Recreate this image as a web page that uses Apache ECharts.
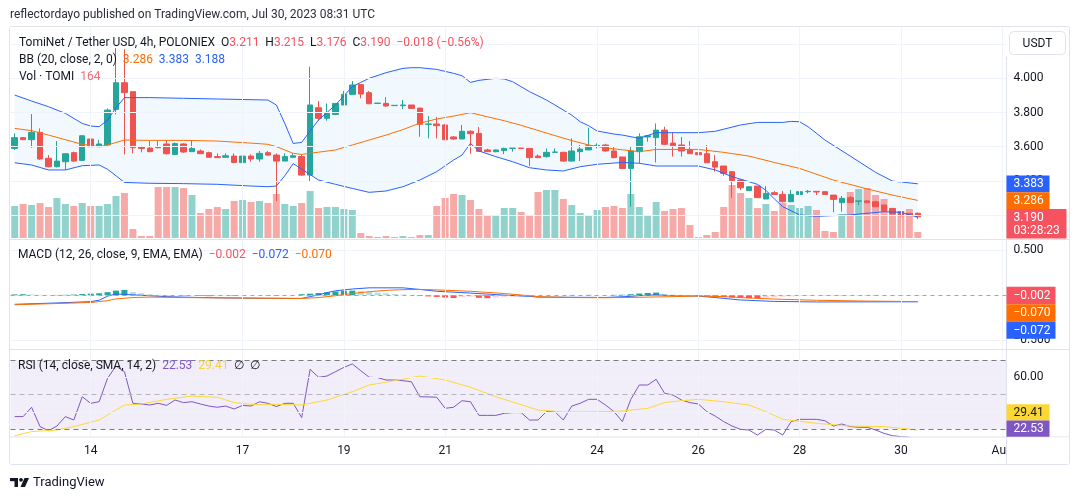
<!DOCTYPE html>
<html lang="en">
<head>
<meta charset="utf-8" />
<title>TomiNet / Tether USD, 4h, POLONIEX</title>
<script src="https://cdn.jsdelivr.net/npm/echarts@6/dist/echarts.min.js"></script>
<style>
  html, body { margin: 0; padding: 0; background: #ffffff; }
  #chart { width: 1080px; height: 500px; }
</style>
</head>
<body>
<div id="chart"></div>
<script>
// 4h candles, slot 0 = Jul 12 12:00 UTC, 118 slots so the axis runs to Aug 1
var SLOTS = 118;
var tickIdx = [9, 27, 39, 51, 69, 81, 93, 105, 117];
var tickLabels = ['14', '17', '19', '21', '24', '26', '28', '30', 'Aug'];
var priceTicks = [3.2, 3.4, 3.6, 3.8, 4.0, 4.2];

// open, high, low, close
var ohlc = [
  [3.590,3.678,3.581,3.653],[3.653,3.655,3.639,3.641],[3.641,3.791,3.594,3.684],[3.684,3.707,3.522,3.528],
  [3.532,3.551,3.479,3.483],[3.483,3.633,3.479,3.516],[3.512,3.561,3.464,3.559],[3.565,3.571,3.512,3.516],
  [3.520,3.668,3.516,3.664],[3.645,3.662,3.596,3.600],[3.600,3.639,3.600,3.616],[3.610,3.824,3.606,3.814],
  [3.818,4.177,3.789,3.974],[3.974,4.170,3.555,3.916],[3.922,3.922,3.561,3.594],[3.598,3.606,3.567,3.590],
  [3.592,3.633,3.567,3.571],[3.600,3.633,3.590,3.594],[3.616,3.633,3.555,3.559],[3.555,3.625,3.551,3.618],
  [3.616,3.620,3.565,3.569],[3.571,3.633,3.571,3.590],[3.575,3.584,3.559,3.559],[3.565,3.571,3.538,3.538],
  [3.542,3.561,3.536,3.536],[3.538,3.561,3.538,3.547],[3.545,3.561,3.503,3.508],[3.507,3.551,3.507,3.545],
  [3.545,3.555,3.512,3.528],[3.528,3.575,3.512,3.561],[3.565,3.575,3.547,3.551],[3.551,3.561,3.282,3.516],
  [3.516,3.561,3.516,3.542],[3.538,3.561,3.538,3.547],[3.542,3.555,3.430,3.434],[3.434,4.068,3.395,3.844],
  [3.828,3.867,3.752,3.766],[3.766,3.853,3.752,3.795],[3.789,3.853,3.785,3.853],[3.844,3.926,3.844,3.906],
  [3.906,3.984,3.906,3.961],[3.964,3.964,3.883,3.908],[3.916,3.926,3.851,3.851],[3.853,3.855,3.853,3.855],
  [3.853,3.890,3.834,3.838],[3.840,3.842,3.840,3.842],[3.840,3.873,3.820,3.844],[3.844,3.844,3.824,3.824],
  [3.826,3.826,3.658,3.731],[3.731,3.779,3.649,3.733],[3.733,3.773,3.649,3.723],[3.727,3.733,3.641,3.641],
  [3.657,3.662,3.641,3.645],[3.645,3.727,3.645,3.690],[3.690,3.696,3.559,3.676],[3.678,3.715,3.569,3.573],
  [3.581,3.588,3.569,3.571],[3.571,3.583,3.567,3.581],[3.577,3.594,3.557,3.590],[3.590,3.592,3.571,3.592],
  [3.592,3.592,3.588,3.590],[3.590,3.590,3.487,3.536],[3.545,3.555,3.536,3.536],[3.542,3.590,3.536,3.567],
  [3.567,3.590,3.563,3.569],[3.567,3.571,3.512,3.516],[3.516,3.649,3.516,3.575],[3.571,3.610,3.516,3.586],
  [3.581,3.711,3.581,3.606],[3.606,3.620,3.590,3.608],[3.610,3.617,3.571,3.575],[3.575,3.598,3.532,3.536],
  [3.540,3.540,3.469,3.473],[3.473,3.600,3.249,3.575],[3.571,3.678,3.503,3.658],[3.657,3.668,3.629,3.664],
  [3.653,3.736,3.508,3.697],[3.697,3.717,3.610,3.614],[3.621,3.684,3.542,3.606],[3.610,3.657,3.542,3.575],
  [3.584,3.633,3.559,3.559],[3.565,3.565,3.553,3.553],[3.559,3.610,3.506,3.506],[3.512,3.551,3.454,3.481],
  [3.487,3.487,3.430,3.444],[3.454,3.458,3.302,3.401],[3.405,3.411,3.347,3.360],[3.343,3.366,3.343,3.366],
  [3.370,3.370,3.302,3.302],[3.294,3.370,3.294,3.327],[3.331,3.341,3.321,3.321],[3.321,3.341,3.275,3.278],
  [3.278,3.347,3.278,3.321],[3.321,3.352,3.321,3.337],[3.337,3.347,3.327,3.339],[3.339,3.339,3.317,3.335],
  [3.337,3.337,3.321,3.321],[3.317,3.317,3.216,3.292],[3.273,3.312,3.220,3.298],[3.302,3.312,3.273,3.273],
  [3.281,3.283,3.259,3.283],[3.283,3.288,3.269,3.273],[3.278,3.283,3.249,3.249],[3.259,3.259,3.226,3.226],
  [3.239,3.243,3.206,3.206],[3.220,3.224,3.193,3.197],[3.210,3.212,3.195,3.197],[3.211,3.215,3.176,3.190]
];

var volumes = [
  874,928,901,956,846,1092,928,874,956,874,874,928,1147,1229,246,55,55,1392,1392,1392,
  1365,1174,683,792,846,792,1010,1037,983,1010,956,1201,928,874,956,1283,819,846,846,792,
  764,137,55,27,55,27,55,27,82,82,874,1092,1201,1174,1037,792,601,628,819,819,
  710,601,1256,1310,1310,1065,901,683,628,764,846,874,819,1201,846,601,983,737,792,819,
  355,27,82,164,846,1447,1229,1092,819,928,737,956,901,819,874,764,191,164,655,1256,
  1338,1365,1174,1065,764,737,792,164
];

var bbUpper = [[0,3.902],[2,3.867],[4,3.834],[6,3.795],[8,3.736],[9,3.721],[10,3.717],[11,3.756],[12,3.828],[13,3.887],
  [16,3.887],[20,3.883],[24,3.879],[28,3.875],[30,3.873],[31,3.844],[32,3.736],[33,3.619],[34,3.625],[35,3.692],
  [36,3.756],[38,3.844],[40,3.951],[41,3.976],[42,4.000],[44,4.033],[46,4.058],[47,4.062],[48,4.062],[50,4.052],
  [52,4.029],[53,4.015],[54,3.976],[55,3.988],[57,4.000],[58,3.996],[59,3.980],[61,3.922],[63,3.873],[64,3.844],
  [66,3.785],[67,3.746],[68,3.723],[69,3.692],[71,3.674],[72,3.668],[74,3.649],[76,3.682],[81,3.682],[83,3.690],
  [86,3.727],[88,3.742],[91,3.742],[92,3.748],[93,3.746],[94,3.717],[96,3.639],[99,3.545],[102,3.450],[104,3.399],[107,3.383]];
var bbMiddle = [[0,3.707],[2,3.694],[4,3.668],[6,3.641],[8,3.614],[10,3.600],[11,3.610],[12,3.625],[13,3.639],[16,3.637],
  [20,3.637],[24,3.633],[28,3.621],[30,3.614],[31,3.600],[32,3.581],[33,3.561],[34,3.555],[36,3.568],[38,3.581],
  [40,3.610],[42,3.639],[44,3.668],[46,3.700],[48,3.738],[50,3.762],[52,3.779],[54,3.799],[56,3.775],[58,3.752],
  [60,3.725],[62,3.695],[64,3.665],[66,3.636],[68,3.610],[70,3.593],[72,3.582],[74,3.571],[76,3.584],[81,3.584],
  [84,3.567],[87,3.545],[90,3.508],[93,3.473],[97,3.405],[101,3.353],[104,3.317],[107,3.286]];
var bbLower = [[0,3.506],[2,3.493],[4,3.464],[6,3.464],[8,3.489],[10,3.493],[11,3.468],[12,3.430],[13,3.391],[16,3.386],
  [20,3.384],[24,3.380],[28,3.370],[30,3.366],[31,3.370],[32,3.430],[33,3.501],[34,3.469],[36,3.405],[38,3.380],
  [40,3.356],[42,3.333],[44,3.341],[46,3.366],[48,3.405],[50,3.454],[52,3.522],[53,3.551],[54,3.619],[55,3.575],
  [57,3.542],[59,3.512],[61,3.477],[63,3.464],[65,3.458],[67,3.483],[69,3.497],[72,3.508],[74,3.503],[76,3.487],
  [81,3.487],[83,3.464],[85,3.425],[87,3.395],[88,3.380],[89,3.345],[90,3.295],[91,3.249],[93,3.201],[95,3.193],
  [99,3.201],[103,3.220],[105,3.216],[107,3.188]];

var macdLine = [[0,-0.100],[5,-0.085],[9,-0.070],[10,-0.055],[11,-0.010],[12,0.015],[14,0.005],[16,-0.005],[18,-0.015],
  [22,-0.025],[26,-0.030],[30,-0.033],[34,-0.035],[35,-0.015],[36,0.005],[37,0.030],[38,0.050],[40,0.070],[42,0.083],
  [46,0.083],[48,0.065],[50,0.045],[54,0.025],[58,0.002],[61,-0.012],[62,-0.020],[66,-0.022],[70,-0.024],[73,-0.012],
  [74,-0.004],[76,0.005],[78,-0.005],[81,-0.008],[83,-0.025],[86,-0.052],[90,-0.068],[95,-0.074],[100,-0.073],[107,-0.072]];
var signalLine = [[0,-0.105],[9,-0.080],[11,-0.060],[12,-0.040],[14,-0.025],[16,-0.020],[20,-0.025],[30,-0.033],
  [34,-0.035],[36,-0.025],[38,-0.005],[40,0.020],[42,0.040],[44,0.055],[46,0.063],[48,0.065],[50,0.060],[54,0.045],
  [58,0.020],[61,-0.005],[62,-0.015],[66,-0.025],[70,-0.027],[74,-0.022],[78,-0.015],[81,-0.008],[84,-0.015],
  [87,-0.030],[91,-0.045],[95,-0.055],[100,-0.063],[107,-0.070]];
var macdHist = [
  0.010,0.012,0.010,0.006,0.004,0.004,0.005,0.008,0.014,0.018,0.022,0.035,0.052,0.060,0.035,0.022,0.012,0.006,-0.004,-0.003,
  -0.005,-0.004,-0.008,-0.010,-0.009,-0.006,-0.007,-0.005,-0.004,-0.003,-0.004,-0.006,-0.004,-0.003,0.012,0.018,0.025,0.033,0.042,0.050,
  0.052,0.045,0.038,0.030,0.022,0.014,0.008,0.004,-0.007,-0.012,-0.018,-0.025,-0.030,-0.018,-0.015,-0.028,-0.033,-0.022,-0.018,-0.014,
  -0.010,-0.007,-0.006,-0.004,-0.003,-0.002,0.004,0.003,0.005,0.004,0.003,0.005,0.006,0.012,0.020,0.026,0.030,0.015,0.008,0.004,
  0.002,-0.005,-0.010,-0.014,-0.020,-0.024,-0.028,-0.031,-0.033,-0.022,-0.018,-0.015,-0.012,-0.009,-0.007,-0.002,0.002,-0.002,0.003,-0.002,
  0.002,-0.003,-0.004,-0.003,0.002,-0.002,0.001,-0.002
];

var rsi = [
  37.2,37.2,42.6,31.4,29.0,31.7,37.2,35.2,48.7,44.9,45.8,59.4,66.5,63.2,44.9,44.5,43.9,44.9,43.7,46.8,
  45.3,45.8,44.5,43.3,42.6,43.3,41.6,43.7,43.3,45.8,44.9,43.0,44.9,44.9,36.6,64.6,60.0,60.7,63.2,65.7,
  67.7,63.8,60.0,59.8,58.4,58.4,58.0,57.4,48.7,48.6,48.4,42.0,42.6,46.4,45.8,37.9,37.9,37.9,39.1,39.5,
  39.5,35.2,35.2,40.1,40.1,35.2,43.3,44.9,47.2,47.2,43.9,40.1,34.3,47.2,55.5,55.5,58.8,50.7,49.7,46.8,
  45.3,44.5,40.1,37.5,34.3,31.7,29.8,29.4,26.5,29.8,29.4,26.5,34.3,35.6,35.6,35.6,34.8,31.7,32.9,31.4,
  31.0,31.0,29.4,27.5,26.1,25.6,25.2,22.53
];
var rsiMa = [[0,26.1],[2,28.5],[5,29.4],[7,31.4],[10,35.2],[13,43.9],[15,44.5],[18,47.2],[21,49.1],[24,48.4],
  [26,45.3],[28,44.3],[31,44.3],[34,43.9],[37,46.8],[40,51.6],[42,55.5],[45,58.0],[48,60.7],[51,58.4],
  [54,54.2],[57,48.7],[62,41.0],[65,39.9],[68,39.9],[72,40.4],[75,42.0],[77,45.3],[79,46.4],[81,47.2],
  [84,45.8],[87,43.9],[89,40.1],[91,35.6],[95,33.3],[99,31.7],[103,31.4],[107,29.41]];

// category names for the 4h slots
var MONTHS = ['Jan','Feb','Mar','Apr','May','Jun','Jul','Aug','Sep','Oct','Nov','Dec'];
var t0 = Date.UTC(2023, 6, 12, 12);
var cats = [];
for (var s = 0; s < SLOTS; s++) {
  var d = new Date(t0 + s * 4 * 3600 * 1000);
  cats.push(MONTHS[d.getUTCMonth()] + ' ' + d.getUTCDate() + ' ' + ('0' + d.getUTCHours()).slice(-2) + ':00');
}

var FONT = 'Roboto, "Noto Sans", sans-serif';
var TEXT = '#131722';
var GRID = '#f0f3fa';
var UP = '#26a69a', DOWN = '#ef5350';

function minus(v, dec) {
  return (v < 0 ? '\u2212' : '') + Math.abs(v).toFixed(dec);
}

var chart = echarts.init(document.getElementById('chart'));

var L = 10.5, W = 995.9;
var panes = [
  { top: 26.5, height: 212.5 },  // price
  { top: 138, height: 100 },     // volume overlay
  { top: 239.5, height: 110 },   // macd
  { top: 349.5, height: 87.2 }   // rsi
];

function xAxisFor(gi, show) {
  return {
    type: 'category', gridIndex: gi, data: cats, boundaryGap: true,
    axisLine: { show: false }, axisTick: { show: false }, splitLine: { show: false },
    axisLabel: show ? {
      show: true, color: TEXT, fontSize: 12, fontFamily: FONT, margin: 8,
      interval: function (index) { return tickIdx.indexOf(index) >= 0; },
      formatter: function (v, index) { return tickLabels[tickIdx.indexOf(index)]; }
    } : { show: false }
  };
}

function vLines() {
  return tickIdx.map(function (i) { return { xAxis: cats[i] }; });
}
function hLines(vals) {
  return vals.map(function (v) { return { yAxis: v }; });
}
function helper(gi, lines, extra) {
  var s = {
    type: 'line', xAxisIndex: gi, yAxisIndex: gi, data: cats.map(function () { return null; }),
    showSymbol: false, silent: true, z: 0,
    markLine: {
      silent: true, symbol: ['none', 'none'], label: { show: false }, animation: false,
      lineStyle: { color: GRID, width: 1, type: 'solid' },
      data: lines
    }
  };
  if (extra) { for (var k in extra) s[k] = extra[k]; }
  return s;
}

var ySide = {
  position: 'right', axisLine: { show: false }, axisTick: { show: false }, splitLine: { show: false }
};

var option = {
  animation: false,
  backgroundColor: '#ffffff',
  textStyle: { fontFamily: FONT },
  grid: panes.map(function (p) { return { left: L, width: W, top: p.top, height: p.height }; }),
  xAxis: [xAxisFor(0, false), xAxisFor(1, false), xAxisFor(2, false), xAxisFor(3, true)],
  yAxis: [
    Object.assign({
      type: 'value', gridIndex: 0,
      min: 4.0 - (239 - 78.3) / 171, max: 4.0 + (78.3 - 26.5) / 171,
      axisLabel: { color: TEXT, fontSize: 12, fontFamily: FONT, margin: 7,
        customValues: [3.2, 3.4, 3.6, 3.8, 4.0],
        formatter: function (v) { return v.toFixed(3); } }
    }, ySide),
    { type: 'value', gridIndex: 1, min: 0, max: 2730, show: false },
    Object.assign({
      type: 'value', gridIndex: 2, min: -(349.5 - 295.3) / 90, max: (295.3 - 239.5) / 90,
      axisLabel: { color: TEXT, fontSize: 12, fontFamily: FONT, margin: 7,
        customValues: [-0.5, 0.5],
        formatter: function (v) { return minus(v, 3); } }
    }, ySide),
    Object.assign({
      type: 'value', gridIndex: 3, min: 30 - (436.7 - 429) / 1.725, max: 70 + (360 - 349.5) / 1.725,
      axisLabel: { color: TEXT, fontSize: 12, fontFamily: FONT, margin: 7,
        customValues: [40, 60],
        formatter: function (v) { return v.toFixed(2); } }
    }, ySide)
  ],
  series: [
    // price pane grid lines
    helper(0, vLines().concat(hLines(priceTicks))),
    // Bollinger band fill
    {
      type: 'custom', xAxisIndex: 0, yAxisIndex: 0, z: 1, silent: true,
      data: [[0, 0]],
      renderItem: function (params, api) {
        var pts = bbUpper.map(function (p) { return api.coord(p); });
        var low = bbLower.slice().reverse().map(function (p) { return api.coord(p); });
        return { type: 'polygon', shape: { points: pts.concat(low) },
          style: { fill: 'rgba(33,150,243,0.06)' } };
      }
    },
    {
      type: 'bar', name: 'Vol', xAxisIndex: 1, yAxisIndex: 1, z: 2, barWidth: 7,
      data: volumes.map(function (v, i) {
        var up = ohlc[i][3] >= ohlc[i][0];
        return { value: v, itemStyle: { color: up ? 'rgba(38,166,154,0.5)' : 'rgba(239,83,80,0.5)' } };
      })
    },
    {
      type: 'candlestick', name: 'TOMI', xAxisIndex: 0, yAxisIndex: 0, z: 3, barWidth: 6,
      itemStyle: { color: UP, color0: DOWN, borderColor: UP, borderColor0: DOWN, borderWidth: 1 },
      data: ohlc.map(function (r) { return [r[0], r[3], r[2], r[1]]; })
    },
    { type: 'line', name: 'BB upper', xAxisIndex: 0, yAxisIndex: 0, z: 4, data: bbUpper, showSymbol: false,
      lineStyle: { color: '#2962ff', width: 1 } },
    { type: 'line', name: 'BB basis', xAxisIndex: 0, yAxisIndex: 0, z: 4, data: bbMiddle, showSymbol: false,
      lineStyle: { color: '#ff6d00', width: 1 } },
    { type: 'line', name: 'BB lower', xAxisIndex: 0, yAxisIndex: 0, z: 4, data: bbLower, showSymbol: false,
      lineStyle: { color: '#2962ff', width: 1 } },

    // MACD pane
    helper(2, vLines().concat(hLines([0.5, -0.5])).concat([
      { yAxis: 0, lineStyle: { color: '#a3a6af', type: [4, 4] } }
    ])),
    {
      type: 'bar', name: 'Histogram', xAxisIndex: 2, yAxisIndex: 2, z: 2, barWidth: 6,
      data: macdHist.map(function (v, i) {
        var prev = i > 0 ? macdHist[i - 1] : v;
        var c = v >= 0 ? (v >= prev ? '#26a69a' : '#b2dfdb') : (v <= prev ? '#ff5252' : '#ffcdd2');
        return { value: v, itemStyle: { color: c } };
      })
    },
    { type: 'line', name: 'MACD', xAxisIndex: 2, yAxisIndex: 2, z: 3, data: macdLine, showSymbol: false,
      lineStyle: { color: '#2962ff', width: 1 } },
    { type: 'line', name: 'Signal', xAxisIndex: 2, yAxisIndex: 2, z: 3, data: signalLine, showSymbol: false,
      lineStyle: { color: '#ff6d00', width: 1 } },

    // RSI pane
    helper(3, vLines().concat(hLines([40, 60])).concat([
      { yAxis: 70, lineStyle: { color: '#787b86', type: [5, 4] } },
      { yAxis: 50, lineStyle: { color: '#b2b5be', type: [5, 4] } },
      { yAxis: 30, lineStyle: { color: '#787b86', type: [5, 4] } }
    ]), {
      markArea: { silent: true, itemStyle: { color: 'rgba(126,87,194,0.1)' },
        data: [[{ yAxis: 30 }, { yAxis: 70 }]] }
    }),
    { type: 'line', name: 'RSI', xAxisIndex: 3, yAxisIndex: 3, z: 3, data: rsi, showSymbol: false,
      lineStyle: { color: '#7e57c2', width: 1 } },
    { type: 'line', name: 'RSI MA', xAxisIndex: 3, yAxisIndex: 3, z: 3, data: rsiMa, showSymbol: false,
      lineStyle: { color: '#fdd835', width: 1 } }
  ]
};

chart.setOption(option);

// --- texts, frame, badges ---
function richText(x, y, parts, size) {
  var txt = '', rich = {};
  parts.forEach(function (p, k) {
    rich['p' + k] = { fill: p[1], fontSize: size || 12, fontFamily: FONT };
    txt += '{p' + k + '|' + p[0] + '}';
  });
  return { type: 'text', x: x, y: y, z: 60,
    style: { text: txt, rich: rich, verticalAlign: 'middle', fontSize: size || 12, fontFamily: FONT } };
}
function hline(y, x1, x2) {
  return { type: 'line', z: 50, silent: true, shape: { x1: x1, y1: y, x2: x2, y2: y },
    style: { stroke: '#e0e3eb', lineWidth: 1 } };
}

var RED = '#f7525f';
var g = [];
g.push({ type: 'text', x: 10, y: 15, z: 60,
  style: { text: 'reflectordayo published on TradingView.com, Jul 30, 2023 08:31 UTC', fill: '#2a2e39',
    fontSize: 12, fontFamily: FONT, verticalAlign: 'middle' } });
g.push(richText(19, 42.5, [['TomiNet / Tether USD, 4h, POLONIEX', TEXT], ['  O', TEXT], ['3.211', RED],
  ['  H', TEXT], ['3.215', RED], ['  L', TEXT], ['3.176', RED], ['  C', TEXT], ['3.190', RED],
  ['  \u22120.018 (\u22120.56%)', RED]]));
g.push(richText(19, 59.5, [['BB (20, close, 2, 0)', TEXT], ['  3.286', '#ff6d00'], ['  3.383  3.188', '#2962ff']]));
g.push(richText(19, 76.5, [['Vol \u00b7 TOMI', TEXT], ['  164', '#f26c73']]));
g.push(richText(18, 254.5, [['MACD (12, 26, close, 9, EMA, EMA)', TEXT], ['  \u22120.002', RED],
  ['  \u22120.072', '#2962ff'], ['  \u22120.070', '#ff6d00']]));
g.push(richText(18, 366, [['RSI (14, close, SMA, 14, 2)', TEXT], ['  22.53', '#7e57c2'], ['  29.41', '#f5d42f'],
  ['  \u2205  \u2205', TEXT]]));

// frame and pane separators
g.push({ type: 'rect', z: 50, silent: true, shape: { x: 9.5, y: 26.5, width: 1060, height: 438, r: 2 },
  style: { fill: 'none', stroke: '#e0e3eb', lineWidth: 1 } });
g.push(hline(239.5, 9.5, 1069.5));
g.push(hline(349.5, 9.5, 1069.5));
g.push(hline(437, 9.5, 1069.5));
g.push({ type: 'rect', z: 55, silent: true, shape: { x: 1007, y: 437.5, width: 62, height: 26.5 },
  style: { fill: '#ffffff' } });
g.push({ type: 'line', z: 56, silent: true, shape: { x1: 1006.5, y1: 57, x2: 1006.5, y2: 464.5 },
  style: { stroke: '#e0e3eb', lineWidth: 1 } });
g.push({ type: 'rect', z: 60, silent: true, shape: { x: 1009.5, y: 31.5, width: 56, height: 23, r: 4 },
  style: { fill: '#ffffff', stroke: '#e0e3eb', lineWidth: 1 } });
g.push({ type: 'text', z: 61, x: 1037.5, y: 43.5,
  style: { text: 'USDT', fill: TEXT, fontSize: 12, fontFamily: FONT, align: 'center', verticalAlign: 'middle' } });

// TradingView logo
g.push({ type: 'rect', z: 60, shape: { x: 10, y: 478, width: 8, height: 3.2 }, style: { fill: TEXT } });
g.push({ type: 'rect', z: 60, shape: { x: 14.5, y: 478, width: 3.5, height: 9 }, style: { fill: TEXT } });
g.push({ type: 'circle', z: 60, shape: { cx: 21, cy: 479.8, r: 1.9 }, style: { fill: TEXT } });
g.push({ type: 'polygon', z: 60, shape: { points: [[24.5, 478], [29, 478], [25, 487], [20.5, 487]] }, style: { fill: TEXT } });
g.push({ type: 'text', x: 33, y: 482.5, z: 60,
  style: { text: 'TradingView', fill: TEXT, fontSize: 13, fontFamily: FONT, verticalAlign: 'middle' } });

// value badges on the right axis, stacked like the original
function badges(axis, items, top, bottom, h, w) {
  items.forEach(function (it) {
    var y = chart.convertToPixel({ yAxisIndex: axis }, it.v);
    it.y = Math.min(Math.max(y, top + h / 2), bottom - h / 2);
  });
  items.sort(function (a, b) { return a.y - b.y; });
  for (var k = 1; k < items.length; k++) items[k].y = Math.max(items[k].y, items[k - 1].y + h);
  if (items[items.length - 1].y > bottom - h / 2) items[items.length - 1].y = bottom - h / 2;
  for (var k2 = items.length - 2; k2 >= 0; k2--) items[k2].y = Math.min(items[k2].y, items[k2 + 1].y - h);
  items.forEach(function (it) {
    var hh = it.sub ? h * 1.75 : h;
    g.push({ type: 'rect', z: 70, shape: { x: 1006.5, y: it.y - h / 2, width: it.w || w, height: hh },
      style: { fill: it.bg } });
    g.push({ type: 'text', z: 71, x: 1013.5, y: it.y + 0.5,
      style: { text: it.t, fill: it.fg || '#ffffff', fontSize: 12, fontFamily: FONT, verticalAlign: 'middle' } });
    if (it.sub) {
      g.push({ type: 'text', z: 71, x: 1013.5, y: it.y + 14,
        style: { text: it.sub, fill: '#ffffff', fontSize: 12, fontFamily: FONT, verticalAlign: 'middle' } });
    }
  });
}
badges(0, [
  { v: 3.383, t: '3.383', bg: '#2962ff' },
  { v: 3.286, t: '3.286', bg: '#ff6d00' },
  { v: 3.190, t: '3.190', bg: RED, sub: '03:28:23', w: 60 }
], 26.5, 262, 16.8, 43);
badges(2, [
  { v: -0.002, t: minus(-0.002, 3), bg: RED },
  { v: -0.070, t: minus(-0.070, 3), bg: '#ff6d00' },
  { v: -0.072, t: minus(-0.072, 3), bg: '#2962ff' }
], 239.5, 349.5, 17.3, 49);
badges(3, [
  { v: 29.41, t: '29.41', bg: '#fdd835', fg: TEXT },
  { v: 22.53, t: '22.53', bg: '#7e57c2' }
], 349.5, 436.7, 16.2, 43);

chart.setOption({ graphic: g });
</script>
</body>
</html>
